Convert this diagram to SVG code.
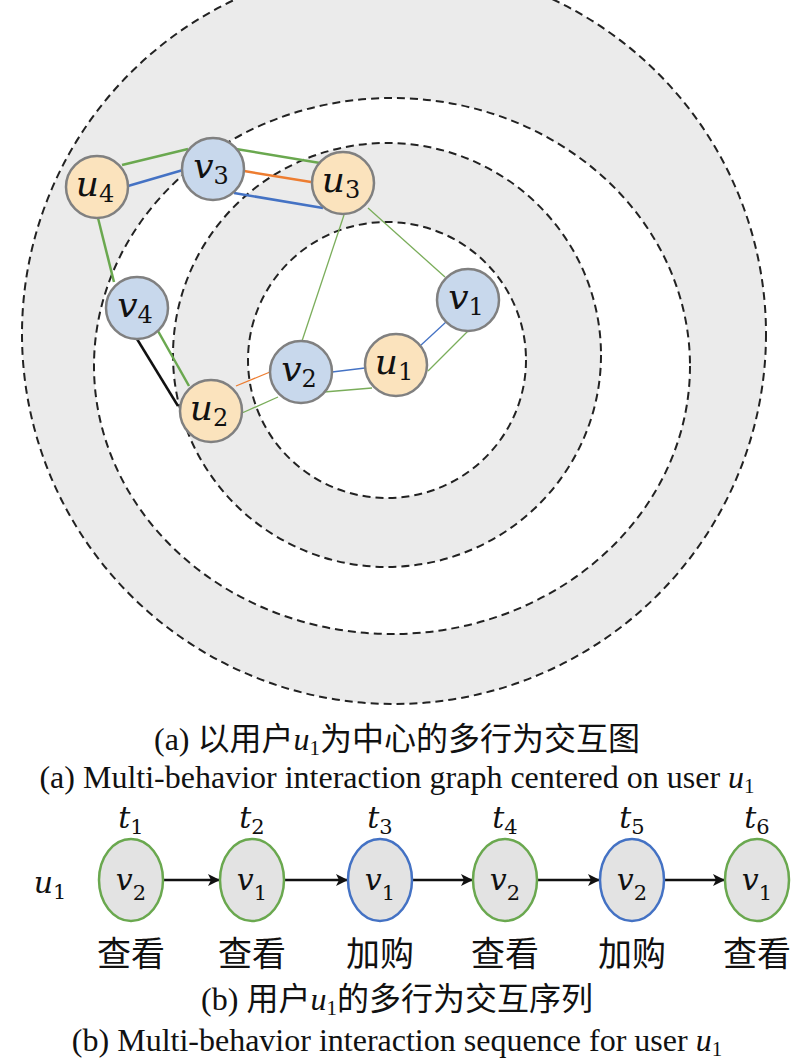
<svg xmlns="http://www.w3.org/2000/svg" width="794" height="1062" viewBox="0 0 794 1062">
<style>
.ring{stroke:#222;stroke-width:2;stroke-dasharray:8,5}
.u{fill:#fbe3bd;stroke:#808080;stroke-width:2.5}
.v{fill:#c8d8ec;stroke:#808080;stroke-width:2.5}
.lbl{font-family:"DejaVu Serif","Liberation Serif",serif;font-style:italic;font-size:36px;fill:#111;text-anchor:middle}
.sub{font-style:normal;font-size:24px}
.g{stroke:#6aa84f;stroke-width:2.5}
.gt{stroke:#7aad5a;stroke-width:1.3}
.b{stroke:#4472c4;stroke-width:2.5}
.bt{stroke:#4472c4;stroke-width:1.3}
.o{stroke:#ed7d31;stroke-width:2.5}
.ot{stroke:#ed7d31;stroke-width:1.3}
.k{stroke:#111;stroke-width:2.5}
.cap{font-family:"Liberation Serif","Noto Sans CJK SC",serif;font-size:32px;fill:#111;text-anchor:middle}
.seq{fill:#e3e3e3;stroke-width:2.5}
.sl{font-family:"DejaVu Serif","Liberation Serif",serif;font-style:italic;font-size:30px;fill:#111;text-anchor:middle}
.ss{font-style:normal;font-size:21px}
.beh{font-family:"Noto Sans CJK SC",sans-serif;font-size:34px;fill:#111;text-anchor:middle}
.arr{stroke:#111;stroke-width:2.5;marker-end:url(#ah)}
</style>
<defs>
<marker id="ah" markerWidth="12" markerHeight="12" refX="11" refY="6" orient="auto" markerUnits="userSpaceOnUse" viewBox="0 0 12 12">
<path d="M0,0 L12,6 L0,12 L3,6 z" fill="#111"/>
</marker>
</defs>
<g id="rings">
<ellipse cx="394" cy="334" rx="372" ry="370" fill="#ebebeb" class="ring"/>
<ellipse cx="392" cy="366" rx="298" ry="268" fill="#fff" class="ring"/>
<ellipse cx="387" cy="355" rx="214" ry="212" fill="#ebebeb" class="ring"/>
<ellipse cx="387" cy="360" rx="139" ry="138" fill="#fff" class="ring"/>
</g>
<g id="connectors">
<line x1="122" y1="165" x2="188" y2="149" class="g"/>
<line x1="128" y1="186" x2="183" y2="170" class="b"/>
<line x1="236" y1="149" x2="320" y2="163" class="g"/>
<line x1="244" y1="171" x2="311" y2="182" class="o"/>
<line x1="234" y1="193" x2="323" y2="208" class="b"/>
<line x1="98" y1="218" x2="114" y2="282" class="g"/>
<line x1="137" y1="339" x2="178" y2="406" class="k"/>
<line x1="158" y1="331" x2="189" y2="386" class="g"/>
<line x1="236" y1="386" x2="270" y2="372" class="ot"/>
<line x1="242" y1="413" x2="278" y2="397" class="gt"/>
<line x1="332" y1="372" x2="365" y2="368" class="bt"/>
<line x1="324" y1="392" x2="372" y2="388" class="gt"/>
<line x1="344" y1="215" x2="302" y2="341" class="gt"/>
<line x1="368" y1="208" x2="445" y2="277" class="gt"/>
<line x1="420" y1="346" x2="446" y2="322" class="bt"/>
<line x1="428" y1="371" x2="468" y2="331" class="gt"/>
</g>
<g id="u4"><circle cx="97" cy="187" r="31" class="u"/><text x="95" y="196" class="lbl">u<tspan class="sub" dy="6">4</tspan></text></g>
<g id="v3"><circle cx="213" cy="169" r="31" class="v"/><text x="211" y="178" class="lbl">v<tspan class="sub" dy="6">3</tspan></text></g>
<g id="u3"><circle cx="343" cy="183" r="31" class="u"/><text x="341" y="192" class="lbl">u<tspan class="sub" dy="6">3</tspan></text></g>
<g id="v4"><circle cx="137" cy="308" r="31" class="v"/><text x="135" y="317" class="lbl">v<tspan class="sub" dy="6">4</tspan></text></g>
<g id="v1"><circle cx="468" cy="300" r="31" class="v"/><text x="466" y="309" class="lbl">v<tspan class="sub" dy="6">1</tspan></text></g>
<g id="v2"><circle cx="301" cy="372" r="31" class="v"/><text x="299" y="381" class="lbl">v<tspan class="sub" dy="6">2</tspan></text></g>
<g id="u1"><circle cx="396" cy="365" r="31" class="u"/><text x="394" y="374" class="lbl">u<tspan class="sub" dy="6">1</tspan></text></g>
<g id="u2"><circle cx="211" cy="411" r="31" class="u"/><text x="209" y="420" class="lbl">u<tspan class="sub" dy="6">2</tspan></text></g>
<g id="captionA">
<text x="397" y="750" class="cap">(a) 以用户<tspan font-style="italic">u</tspan><tspan font-size="21" dy="5">1</tspan><tspan dy="-5">为中心的多行为交互图</tspan></text>
<text x="397" y="788" class="cap">(a) Multi-behavior interaction graph centered on user <tspan font-style="italic">u</tspan><tspan font-size="21" dy="5">1</tspan></text>
</g>
<g id="sequence">
<text x="50" y="893" class="sl">u<tspan class="ss" dy="6">1</tspan></text>
<line x1="164" y1="880" x2="219" y2="880" class="arr"/>
<line x1="284" y1="880" x2="347" y2="880" class="arr"/>
<line x1="412" y1="880" x2="472" y2="880" class="arr"/>
<line x1="537" y1="880" x2="599" y2="880" class="arr"/>
<line x1="664" y1="880" x2="724" y2="880" class="arr"/>
</g>
<g id="s1"><text x="131" y="828" class="sl">t<tspan class="ss" dy="6">1</tspan></text><ellipse cx="131" cy="880" rx="32" ry="41" class="seq" stroke="#6aa84f"/><text x="131" y="890" class="sl">v<tspan class="ss" dy="10">2</tspan></text><text x="131" y="966" class="beh">查看</text></g>
<g id="s2"><text x="252" y="828" class="sl">t<tspan class="ss" dy="6">2</tspan></text><ellipse cx="252" cy="880" rx="32" ry="41" class="seq" stroke="#6aa84f"/><text x="252" y="890" class="sl">v<tspan class="ss" dy="10">1</tspan></text><text x="252" y="966" class="beh">查看</text></g>
<g id="s3"><text x="380" y="828" class="sl">t<tspan class="ss" dy="6">3</tspan></text><ellipse cx="380" cy="880" rx="32" ry="41" class="seq" stroke="#4472c4"/><text x="380" y="890" class="sl">v<tspan class="ss" dy="10">1</tspan></text><text x="380" y="966" class="beh">加购</text></g>
<g id="s4"><text x="505" y="828" class="sl">t<tspan class="ss" dy="6">4</tspan></text><ellipse cx="505" cy="880" rx="32" ry="41" class="seq" stroke="#6aa84f"/><text x="505" y="890" class="sl">v<tspan class="ss" dy="10">2</tspan></text><text x="505" y="966" class="beh">查看</text></g>
<g id="s5"><text x="632" y="828" class="sl">t<tspan class="ss" dy="6">5</tspan></text><ellipse cx="632" cy="880" rx="32" ry="41" class="seq" stroke="#4472c4"/><text x="632" y="890" class="sl">v<tspan class="ss" dy="10">2</tspan></text><text x="632" y="966" class="beh">加购</text></g>
<g id="s6"><text x="757" y="828" class="sl">t<tspan class="ss" dy="6">6</tspan></text><ellipse cx="757" cy="880" rx="32" ry="41" class="seq" stroke="#6aa84f"/><text x="757" y="890" class="sl">v<tspan class="ss" dy="10">1</tspan></text><text x="757" y="966" class="beh">查看</text></g>
<g id="captionB">
<text x="397" y="1010" class="cap">(b) 用户<tspan font-style="italic">u</tspan><tspan font-size="21" dy="5">1</tspan><tspan dy="-5">的多行为交互序列</tspan></text>
<text x="397" y="1051" class="cap">(b) Multi-behavior interaction sequence for user <tspan font-style="italic">u</tspan><tspan font-size="21" dy="5">1</tspan></text>
</g>
</svg>
